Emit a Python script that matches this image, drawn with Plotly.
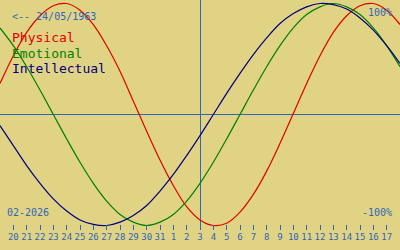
import plotly.graph_objects as go

# day offsets relative to today (03/02/2026)
offsets = list(range(-15, 16))
tick_offsets = list(range(-14, 15))
tick_labels = ["20", "21", "22", "23", "24", "25", "26", "27", "28", "29", "30", "31",
               "1", "2", "3", "4", "5", "6", "7", "8", "9", "10", "11", "12", "13",
               "14", "15", "16", "17"]

physical = [0.28, 0.53, 0.74, 0.89, 0.98, 1.00, 0.94, 0.81, 0.62, 0.39, 0.12,
            -0.15, -0.41, -0.64, -0.83, -0.95, -1.00, -0.98, -0.88, -0.72, -0.51,
            -0.26, 0.01, 0.28, 0.53, 0.74, 0.89, 0.98, 1.00, 0.94, 0.81]
emotional = [0.78, 0.62, 0.43, 0.22, 0.00, -0.22, -0.43, -0.62, -0.78, -0.90, -0.97,
             -1.00, -0.97, -0.90, -0.78, -0.62, -0.43, -0.22, 0.00, 0.22, 0.43,
             0.62, 0.78, 0.90, 0.97, 1.00, 0.97, 0.90, 0.78, 0.62, 0.43]
intellectual = [-0.10, -0.28, -0.46, -0.62, -0.76, -0.87, -0.95, -0.99, -1.00, -0.97, -0.91,
                -0.82, -0.69, -0.54, -0.37, -0.19, 0.00, 0.19, 0.37, 0.54, 0.69,
                0.82, 0.91, 0.97, 1.00, 0.99, 0.95, 0.87, 0.76, 0.62, 0.46]

BG = "#E1D384"
BLUE = "#2F66BA"
FONT = "DejaVu Sans Mono"

fig = go.Figure()
for name, vals, col in [("Physical", physical, "#E00000"),
                        ("Emotional", emotional, "#008000"),
                        ("Intellectual", intellectual, "#000080")]:
    fig.add_trace(go.Scatter(x=offsets, y=vals, mode="lines", name=name,
                             line=dict(color=col, width=1.2, shape="spline"),
                             hoverinfo="skip"))

PH = 230.0
def py(p):
    return 1 - p / PH

annots = [
    dict(text="<-- 24/05/1963", x=10 / 400, y=py(16.5), xanchor="left", yanchor="middle",
         font=dict(size=10, color=BLUE)),
    dict(text="Physical", x=10 / 400, y=py(38), xanchor="left", yanchor="middle",
         font=dict(size=13, color="#E00000")),
    dict(text="Emotional", x=10 / 400, y=py(53), xanchor="left", yanchor="middle",
         font=dict(size=13, color="#008000")),
    dict(text="Intellectual", x=10 / 400, y=py(68), xanchor="left", yanchor="middle",
         font=dict(size=13, color="#000080")),
    dict(text="02-2026", x=5 / 400, y=py(212.5), xanchor="left", yanchor="middle",
         font=dict(size=10, color=BLUE)),
    dict(text="100%", x=394 / 400, y=py(12), xanchor="right", yanchor="middle",
         font=dict(size=10, color=BLUE)),
    dict(text="-100%", x=394 / 400, y=py(212.5), xanchor="right", yanchor="middle",
         font=dict(size=10, color=BLUE)),
]
for a in annots:
    a.update(xref="paper", yref="paper", showarrow=False)
    a["font"]["family"] = FONT

fig.update_layout(
    width=400, height=250,
    margin=dict(l=0, r=0, t=0, b=20),
    paper_bgcolor=BG, plot_bgcolor=BG,
    showlegend=False,
    annotations=annots,
    font=dict(family=FONT, color=BLUE),
)
fig.update_xaxes(range=[-15, 15], tickvals=tick_offsets, ticktext=tick_labels,
                 ticks="inside", ticklen=5, tickwidth=1, tickcolor=BLUE,
                 tickfont=dict(size=9, color=BLUE, family=FONT),
                 showgrid=False, showline=False,
                 zeroline=True, zerolinecolor=BLUE, zerolinewidth=1)
fig.update_yaxes(range=[-(PH - 114.5) / 111, 114.5 / 111], showticklabels=False,
                 showgrid=False, showline=False, ticks="",
                 zeroline=True, zerolinecolor=BLUE, zerolinewidth=1)

fig.write_html("out.html", config={"displayModeBar": False})
